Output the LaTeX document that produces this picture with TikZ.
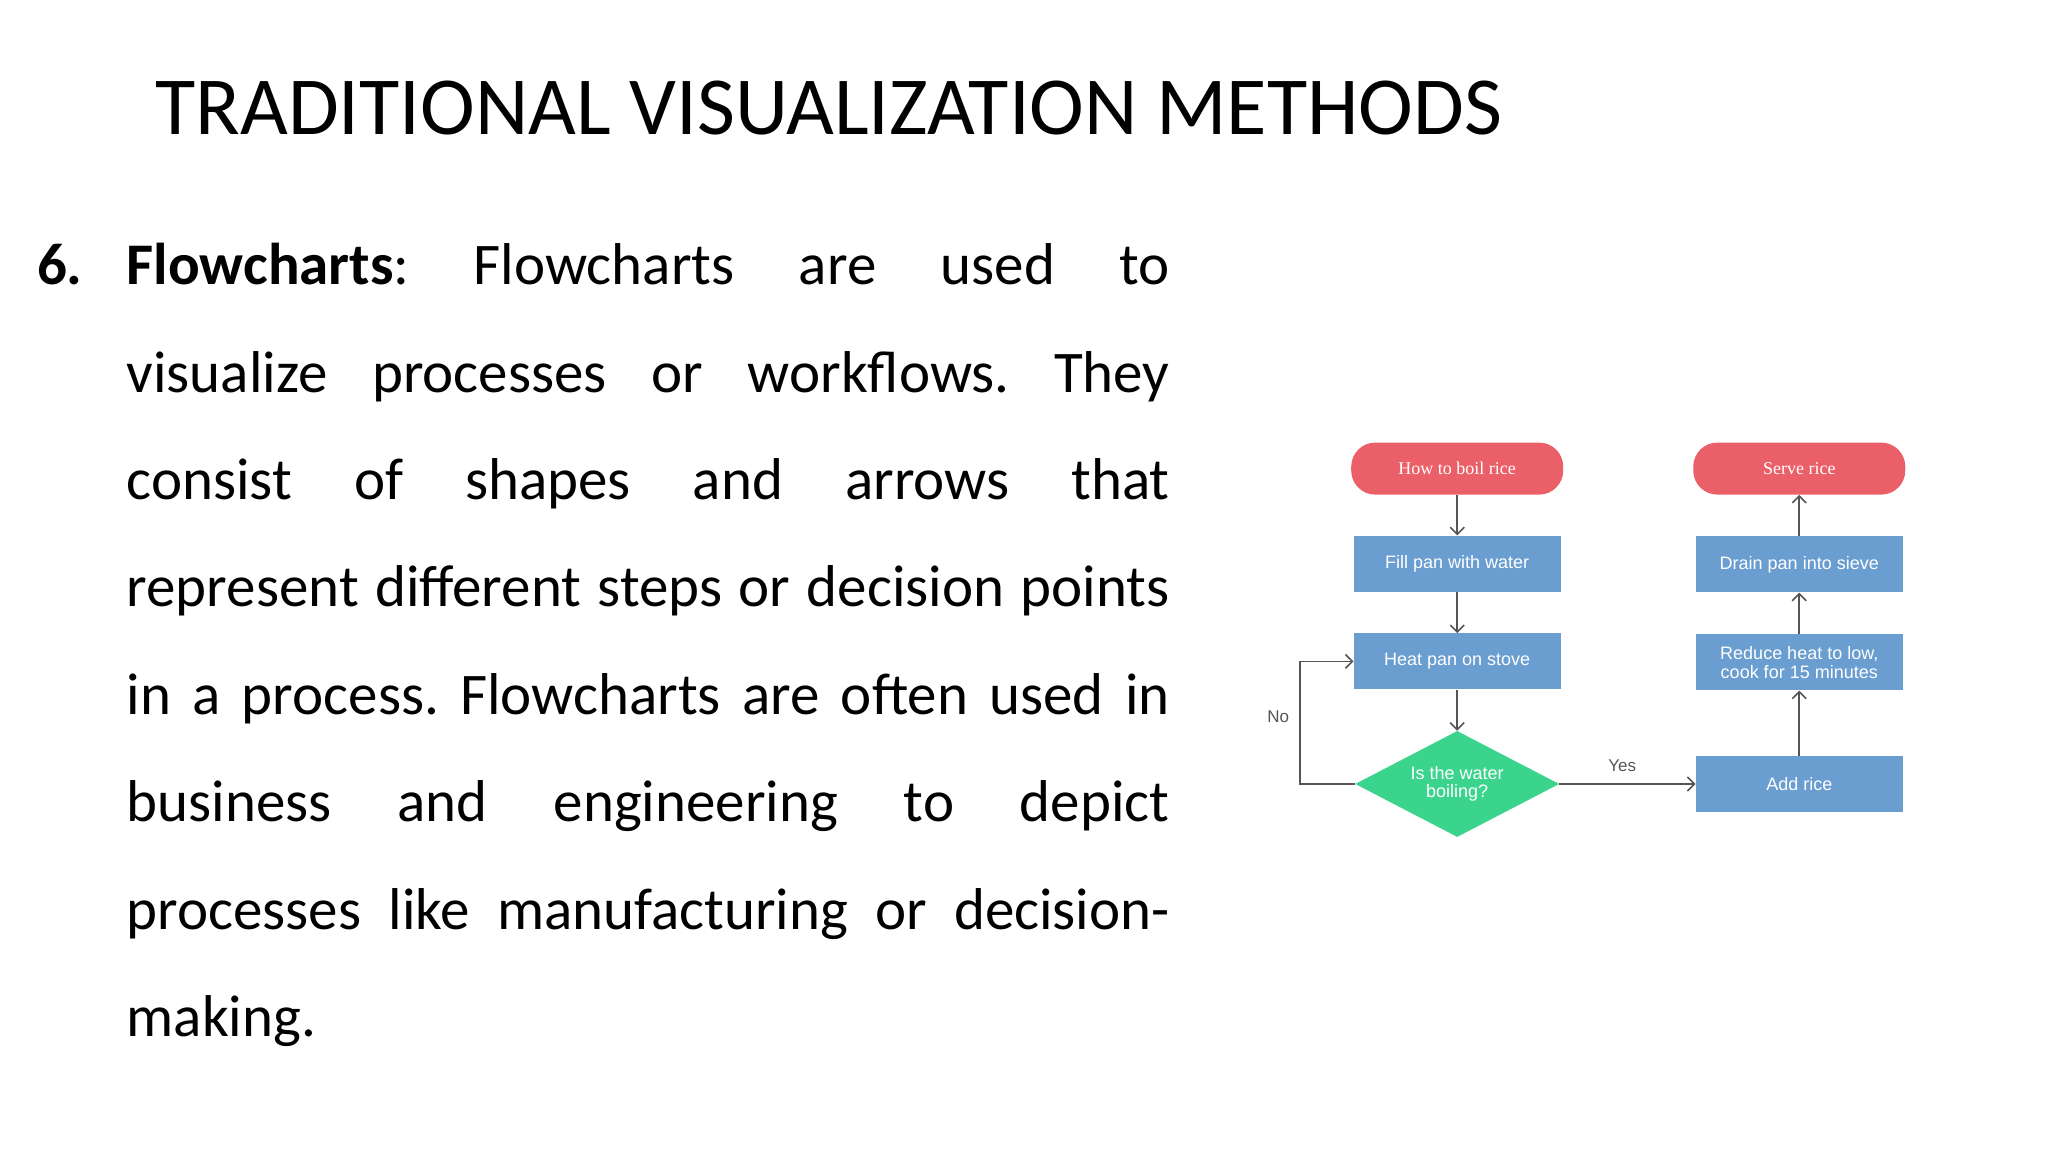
\documentclass[tikz,border=0pt]{standalone}
\usepackage{fontspec}
\setmainfont{Carlito}
\newfontfamily\fcsans{Liberation Sans}
\newfontfamily\fcserif{Liberation Serif}
\usetikzlibrary{shapes.geometric,arrows.meta}
\definecolor{termred}{HTML}{EB6068}
\definecolor{boxblue}{HTML}{6A9DD0}
\definecolor{decgreen}{HTML}{3BD48C}
\definecolor{linegray}{HTML}{555555}
\tikzset{
  term/.style={fill=termred, rounded corners=24pt, minimum width=212pt, minimum height=52pt, text=white, font=\fcserif\fontsize{18}{19}\selectfont, inner sep=0pt},
  proc/.style={fill=boxblue, minimum width=207pt, minimum height=56pt, text=white, font=\fcsans\fontsize{18}{19}\selectfont, align=center, inner sep=0pt},
  dec/.style={diamond, fill=decgreen, minimum width=204pt, minimum height=106pt, text=white, font=\fcsans\fontsize{18}{18}\selectfont, align=center, inner sep=0pt, aspect=1.9},
  conn/.style={draw=linegray, line width=1.6pt, -{Straight Barb[length=7pt,width=14pt]}},
  lab/.style={text=linegray, font=\fcsans\fontsize{17}{19}\selectfont}
}
\begin{document}
\begin{tikzpicture}[x=0.9886pt,y=-0.9886pt]
\useasboundingbox (0,0) rectangle (2071.6,1165.3);
\node[anchor=base west, inner sep=0pt, font=\fontsize{82.5}{90}\selectfont] (title) at (157,136) {TRADITIONAL VISUALIZATION METHODS};
\node[anchor=north west, inner sep=0pt, text width=1043pt, align=justify, font=\fontsize{59}{107.4}\selectfont] (body) at (128,246)
{\frenchspacing\llap{\textbf{6.}\hspace{44pt}}\textbf{Flowcharts}: Flowcharts are used to\linebreak visualize processes or workflows. They\linebreak consist of shapes and arrows that\linebreak represent different steps or decision points\linebreak in a process. Flowcharts are often used in\linebreak business and engineering to depict\linebreak processes like manufacturing or decision-\linebreak making.};
% flowchart
\node[term] (start) at (1474,474) {How to boil rice};
\node[proc] (fill) at (1474,570) {Fill pan with water};
\node[proc] (heat) at (1474,669) {Heat pan on stove};
\node[dec] (boil) at (1474,793) {Is the water\\boiling?};
\node[term] (serve) at (1820,474) {Serve rice};
\node[proc] (drain) at (1820,571) {Drain pan into sieve};
\node[proc] (reduce) at (1820,670) {Reduce heat to low,\\cook for 15 minutes};
\node[proc] (add) at (1820,793) {Add rice};
\coordinate (lc) at (1315,793);
\draw[conn] (start) -- (fill);
\draw[conn] (fill) -- (heat);
\draw[conn] (heat) -- (boil);
\draw[conn] (boil.west) -- (lc) |- (heat.west);
\draw[conn] (boil.east) -- (add.west);
\draw[conn] (add) -- (reduce);
\draw[conn] (reduce) -- (drain);
\draw[conn] (drain) -- (serve);
\node[lab] (no) at (1293,725) {No};
\node[lab] (yes) at (1641,775) {Yes};
\end{tikzpicture}
\end{document}
